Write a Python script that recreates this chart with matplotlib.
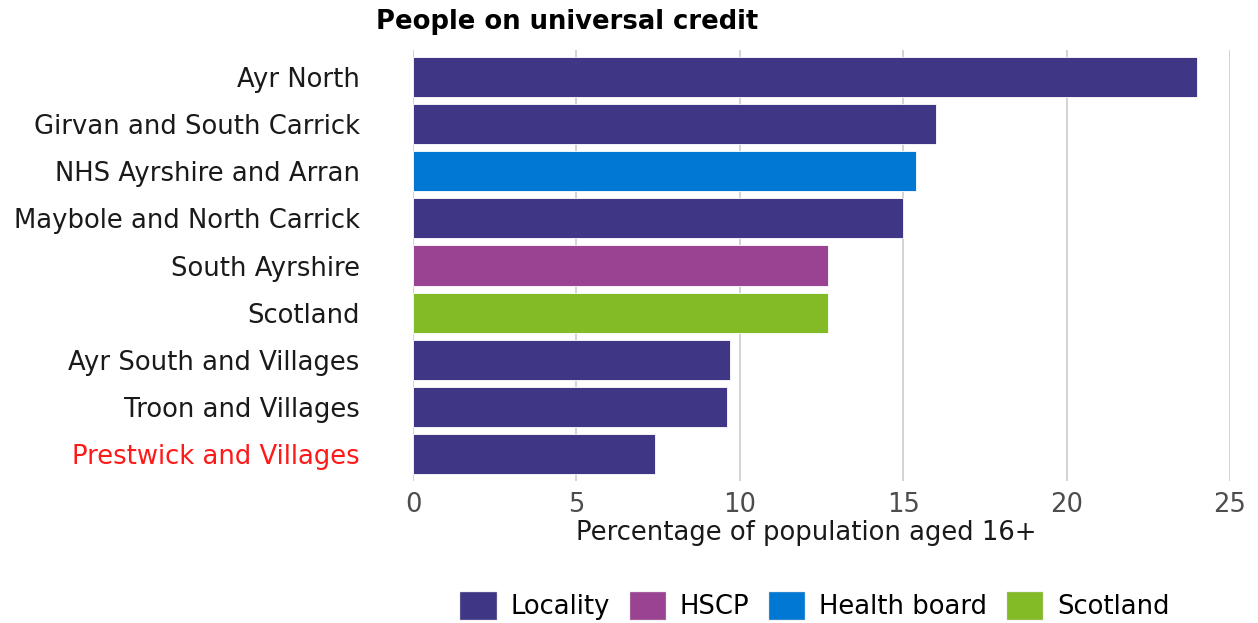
import matplotlib.pyplot as plt
from matplotlib.patches import Patch

areas = ["Ayr North", "Girvan and South Carrick", "NHS Ayrshire and Arran",
         "Maybole and North Carrick", "South Ayrshire", "Scotland",
         "Ayr South and Villages", "Troon and Villages", "Prestwick and Villages"]
values = [24.0, 16.0, 15.4, 15.0, 12.7, 12.7, 9.7, 9.6, 7.4]
area_types = ["Locality", "Locality", "Health board", "Locality", "HSCP",
              "Scotland", "Locality", "Locality", "Locality"]

type_colours = {"Locality": "#3f3685", "HSCP": "#9b4393",
                "Health board": "#0078d4", "Scotland": "#83bb26"}

plt.rcParams['font.family'] = 'DejaVu Sans'
fs = 18.6

fig = plt.figure(figsize=(12.58, 6.23), dpi=100)
ax = fig.add_axes([413 / 1258, 1 - 481 / 623, (1230 - 413) / 1258, (481 - 50) / 623])

pos = list(range(len(areas)))
cols = [type_colours[t] for t in area_types]
ax.barh(pos, values, height=0.85, color=cols, edgecolor="#ffffff", linewidth=0.6, zorder=2)

ax.set_ylim(len(areas) - 0.5 + 0.07, -0.5 - 0.07)
ax.set_xlim(0, 25)
ax.set_xticks([0, 5, 10, 15, 20, 25])
ax.set_yticks(pos)
ax.set_yticklabels(areas, fontsize=fs, color="#1a1a1a")
ax.get_yticklabels()[-1].set_color("#ff1a1a")
ax.tick_params(axis="y", length=0, pad=38.5)
ax.tick_params(axis="x", length=0, labelsize=fs, labelcolor="#4d4d4d", pad=8)
ax.grid(axis="x", color="#cccccc", linewidth=1.2, zorder=0)
ax.set_axisbelow(True)
for s in ax.spines.values():
    s.set_visible(False)

ax.set_xlabel("Percentage of population aged 16+", fontsize=fs, color="#1a1a1a")
ax.xaxis.set_label_coords((806 - 413) / (1230 - 413), -0.09)

fig.text(567 / 1258, 1 - 22 / 623, "People on universal credit", fontsize=fs,
         fontweight="bold", ha="center", va="center")

handles = [Patch(facecolor=c, edgecolor="#cccccc", linewidth=0.3, label=k) for k, c in type_colours.items()]
fig.legend(handles=handles, loc="center", bbox_to_anchor=(815 / 1258, 1 - 606 / 623), ncol=4,
           frameon=False, fontsize=fs, handlelength=1.4, handleheight=1.3,
           handletextpad=0.55, columnspacing=0.75)

fig.savefig("out.png", dpi=100)
